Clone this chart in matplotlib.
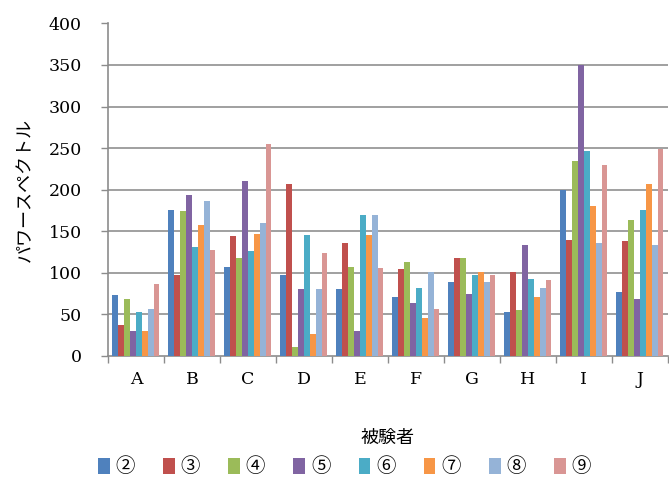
import numpy as np
import matplotlib.pyplot as plt
from matplotlib.patches import Patch

# Data
subjects = ['A', 'B', 'C', 'D', 'E', 'F', 'G', 'H', 'I', 'J']
series_names = ['②', '③', '④', '⑤', '⑥', '⑦', '⑧', '⑨']
s2 = [73, 176, 107, 97, 80, 71, 89, 53, 200, 77]
s3 = [37, 97, 144, 207, 136, 105, 118, 101, 140, 138]
s4 = [68, 174, 118, 11, 107, 113, 118, 55, 235, 163]
s5 = [30, 194, 210, 80, 30, 64, 75, 134, 350, 68]
s6 = [53, 131, 126, 145, 170, 82, 98, 93, 246, 176]
s7 = [30, 158, 147, 26, 145, 46, 101, 71, 181, 207]
s8 = [57, 187, 160, 80, 170, 101, 89, 82, 136, 133]
s9 = [86, 127, 255, 124, 106, 57, 98, 91, 230, 249]
yticks = [0, 50, 100, 150, 200, 250, 300, 350, 400]

colors = ['#4F81BD', '#C0504D', '#9BBB59', '#8064A2',
          '#4BACC6', '#F79646', '#95B3D7', '#D99694']
series = [s2, s3, s4, s5, s6, s7, s8, s9]

jp = ['Noto Sans CJK JP', 'DejaVu Sans']
serif = ['DejaVu Serif']

fig = plt.figure(figsize=(6.69, 4.90), dpi=100)
ax = fig.add_axes([0.1614, 0.2735, 0.837, 0.6787])

x = np.arange(len(subjects))
w = 0.84 / len(series)
for i, (vals, c) in enumerate(zip(series, colors)):
    ax.bar(x - 0.42 + w * (i + 0.5), vals, width=w, color=c, zorder=3)

ax.set_xlim(-0.5, len(subjects) - 0.5)
ax.set_ylim(0, 400)
ax.set_yticks(yticks)
ax.set_yticklabels([str(t) for t in yticks], family=serif, fontsize=12.5)
ax.hlines(yticks[1:-1], -0.5, len(subjects) - 0.5, color='#a0a0a0', lw=1.4, zorder=1)

ax.set_xticks(x)
ax.set_xticklabels(subjects, family=serif, fontsize=12.5)
ax.set_xticks(np.arange(len(subjects) + 1) - 0.5, minor=True)
ax.tick_params(axis='x', which='major', length=0, pad=11)
ax.tick_params(axis='x', which='minor', length=5, color='#8c8c8c', width=1)
ax.tick_params(axis='y', length=5, color='#8c8c8c', width=1, pad=14)

for side in ['top', 'right']:
    ax.spines[side].set_visible(False)
for side in ['left', 'bottom']:
    ax.spines[side].set_color('#8c8c8c')
    ax.spines[side].set_linewidth(1.2)

ax.set_ylabel('パワースペクトル', family=jp, fontsize=13, labelpad=10)
ax.set_xlabel('被験者', family=jp, fontsize=13)
ax.xaxis.set_label_coords(0.5, -0.22)

handles = [Patch(facecolor=c, edgecolor='none') for c in colors]
fig.legend(handles, series_names, loc='center', bbox_to_anchor=(0.515, 0.047),
           ncol=8, frameon=False, prop={'family': jp, 'size': 14},
           handlelength=0.6, handleheight=0.9, handletextpad=0.3,
           columnspacing=1.45)

fig.savefig('out.png', dpi=100)
